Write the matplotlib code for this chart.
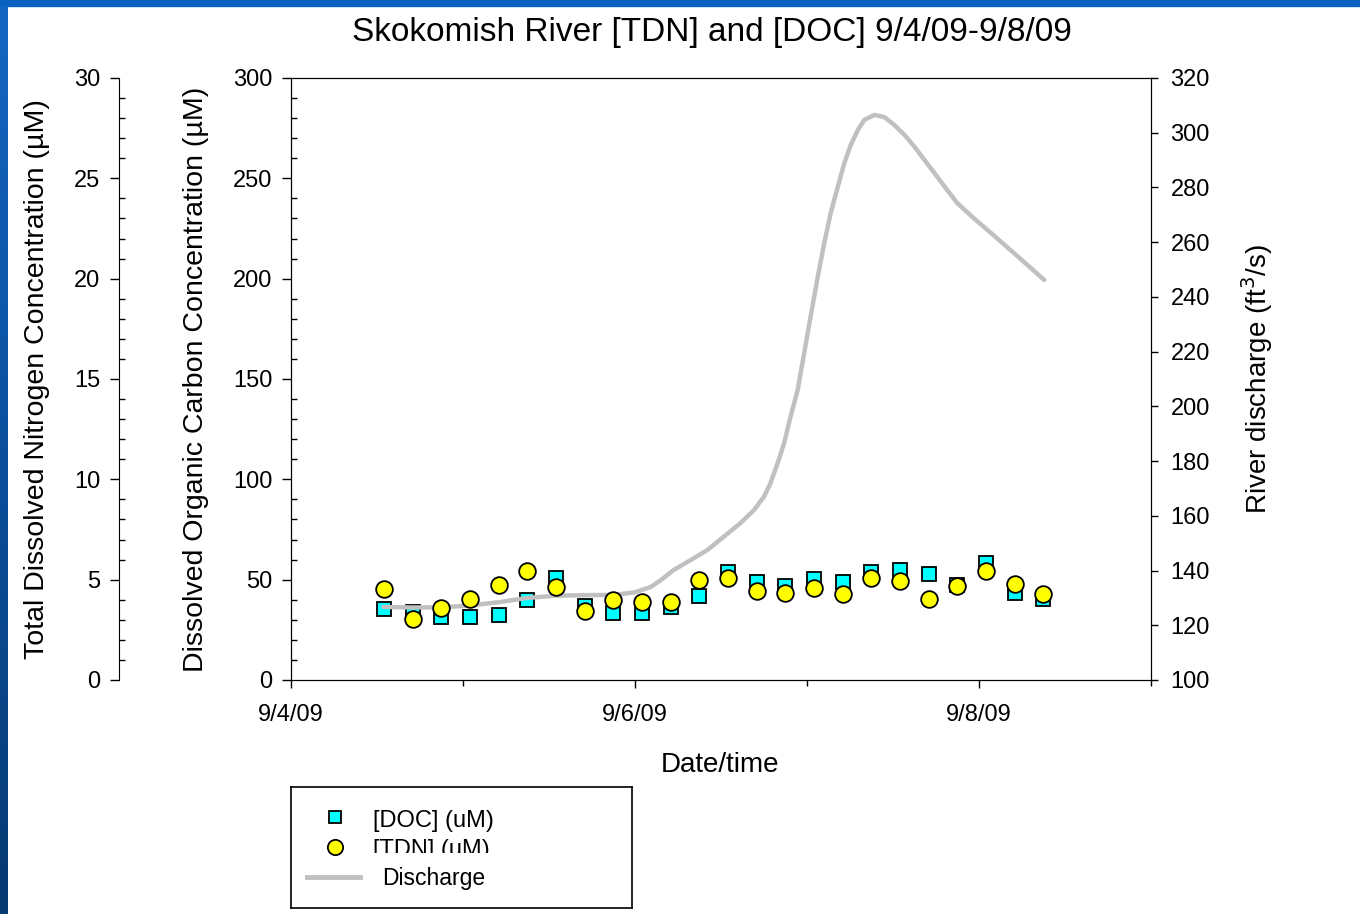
import matplotlib
matplotlib.use("Agg")
import matplotlib.pyplot as plt
import matplotlib.dates as mdates
from matplotlib.patches import Rectangle
from matplotlib.ticker import MultipleLocator
from matplotlib.transforms import Bbox, TransformedBbox
import numpy as np
import pandas as pd

# sampling times: hours after 9/4/09 00:00
sample_hours = [13, 17, 21, 25, 29, 33, 37, 41, 45, 49, 53, 57,
                61, 65, 69, 73, 77, 81, 85, 89, 93, 97, 101, 105]
doc_um = [35.4, 34.0, 31.4, 31.4, 32.4, 39.9, 50.8, 36.8, 33.4, 33.4, 36.4, 41.9,
          53.8, 48.8, 46.8, 50.3, 48.8, 53.8, 54.8, 52.8, 47.3, 58.3, 43.4, 40.4]
tdn_um = [4.53, 3.04, 3.59, 4.04, 4.73, 5.43, 4.63, 3.44, 3.99, 3.89, 3.89, 4.98,
          5.08, 4.44, 4.34, 4.58, 4.29, 5.08, 4.93, 4.04, 4.68, 5.43, 4.78, 4.29]

# river discharge (hours after 9/4/09 00:00, ft3/s)
discharge_hours = [12.9, 16.9, 21.0, 24.9, 28.9, 33.0, 36.9, 40.9, 45.0, 47.9,
                   50.2, 51.6, 53.4, 55.8, 58.1, 60.4, 62.7, 64.6, 66.0, 66.9,
                   67.9, 68.8, 69.7, 70.7, 71.6, 72.5, 73.5, 74.4, 75.3, 76.3,
                   77.2, 78.1, 79.1, 80.0, 81.4, 82.8, 84.2, 85.6, 87.0, 88.4,
                   89.8, 91.2, 93.0, 95.3, 97.7, 101.4, 105.1]
discharge_cfs = [126.7, 126.5, 126.6, 127.2, 128.4, 130.0, 130.8, 131.0, 131.1, 132.0,
                 134.0, 136.5, 140.2, 143.9, 147.5, 152.4, 157.3, 162.1, 167.0, 171.9,
                 179.2, 186.5, 196.2, 206.0, 219.4, 232.8, 247.3, 259.6, 270.6, 280.3,
                 288.8, 295.5, 301.0, 304.7, 306.5, 305.7, 302.8, 299.2, 294.9, 290.0,
                 285.2, 280.3, 274.2, 268.7, 263.3, 254.8, 246.2]

start = pd.Timestamp("2009-09-04")
t_samples = start + pd.to_timedelta(sample_hours, unit="h")
t_discharge = start + pd.to_timedelta(discharge_hours, unit="h")

W, H = 1360, 914
fig = plt.figure(figsize=(W / 100, H / 100), dpi=100)
fig.patch.set_facecolor("white")

# slide frame (blue bands at top and left)
band = fig.add_axes([0, 0, 8 / W, 1])
band.imshow(np.linspace(0, 1, 100).reshape(-1, 1), aspect="auto",
            cmap=matplotlib.colors.LinearSegmentedColormap.from_list(
                "b", ["#1566c2", "#0b4f9c", "#083a72"]),
            extent=[0, 1, 0, 1], origin="upper")
band.axis("off")
fig.patches.append(Rectangle((0, 1 - 6 / H), 1, 6 / H, transform=fig.transFigure,
                             color="#0a62c0", zorder=5))

font = "Liberation Sans"

L, R, T, B = 291, 1151, 78, 680
ax = fig.add_axes([L / W, 1 - B / H, (R - L) / W, (B - T) / H])
ax_q = ax.twinx()
ax_n = ax.twinx()

ax.plot(t_samples, doc_um, ls="none", marker="s", ms=10, mfc="#00ffff",
        mec="black", mew=1.3, clip_on=False)
ax_q.plot(t_discharge, discharge_cfs, color="#c0c0c0", lw=3.2,
          solid_capstyle="round", solid_joinstyle="round")
ax_n.plot(t_samples, tdn_um, ls="none", marker="o", ms=12, mfc="#ffff00",
          mec="black", mew=1.3, clip_on=False)

ax.set_xlim(pd.Timestamp("2009-09-04"), pd.Timestamp("2009-09-09"))
ax.set_ylim(0, 300)
ax_n.set_ylim(0, 30)
ax_q.set_ylim(100, 320)

# x axis
ax.xaxis.set_major_locator(mdates.DayLocator(bymonthday=[4, 6, 8]))
ax.xaxis.set_minor_locator(mdates.DayLocator(bymonthday=[5, 7, 9]))
ax.xaxis.set_major_formatter(mdates.DateFormatter("%-m/%-d/%y"))
ax.tick_params(axis="x", which="major", direction="out", length=6, width=1,
               pad=11, labelsize=17)
ax.tick_params(axis="x", which="minor", direction="out", length=4, width=1)
for lab in ax.get_xticklabels():
    lab.set_fontfamily(font)
ax.set_xlabel("Date/time", family=font, fontsize=20, va="top")
ax.xaxis.set_label_coords(0.499, -0.119)

# DOC axis (left, inner)
ax.yaxis.set_major_locator(MultipleLocator(50))
ax.yaxis.set_minor_locator(MultipleLocator(10))
ax.tick_params(axis="y", which="major", direction="out", length=6.5, width=1,
               pad=7, labelsize=17)
ax.tick_params(axis="y", which="minor", direction="in", length=4, width=1)
for lab in ax.get_yticklabels():
    lab.set_fontfamily(font)
ax.set_ylabel("Dissolved Organic Carbon Concentration (\u00b5M)", family=font,
              fontsize=20.5)
ax.yaxis.set_label_coords(-0.095, 0.5)

# TDN axis (left, outer)
ax_n.yaxis.set_ticks_position("left")
ax_n.yaxis.set_label_position("left")
ax_n.spines["left"].set_position(("axes", -0.2))
for s in ["right", "top", "bottom"]:
    ax_n.spines[s].set_visible(False)
ax_n.yaxis.set_major_locator(MultipleLocator(5))
ax_n.yaxis.set_minor_locator(MultipleLocator(1))
ax_n.tick_params(axis="y", which="major", direction="out", length=6.5, width=1,
                 pad=7, labelsize=17)
ax_n.tick_params(axis="y", which="minor", direction="in", length=4, width=1)
for lab in ax_n.get_yticklabels():
    lab.set_fontfamily(font)
ax_n.set_ylabel("Total Dissolved Nitrogen Concentration (\u00b5M)", family=font,
                fontsize=20.5)
ax_n.yaxis.set_label_coords(-0.280, 0.5)

# discharge axis (right)
ax_q.yaxis.set_major_locator(MultipleLocator(20))
ax_q.tick_params(axis="y", which="major", direction="out", length=5, width=1,
                 pad=9, labelsize=17)
for lab in ax_q.get_yticklabels():
    lab.set_fontfamily(font)
ax_q.set_ylabel("River discharge (ft$^3$/s)", family=font, fontsize=20)
ax_q.yaxis.set_label_coords(1.102, 0.5)

fig.text(712 / W, 1 - 32 / H, "Skokomish River [TDN] and [DOC] 9/4/09-9/8/09",
         ha="center", va="center", family=font, fontsize=24)

# legend box
lx0, ly0, lx1, ly1 = 291, 787, 632, 908
leg = fig.add_axes([lx0 / W, 1 - ly1 / H, (lx1 - lx0) / W, (ly1 - ly0) / H])
leg.set_xlim(0, lx1 - lx0)
leg.set_ylim(ly1 - ly0, 0)
leg.set_xticks([])
leg.set_yticks([])
for s in leg.spines.values():
    s.set_linewidth(1.2)
leg.plot([44], [30], marker="s", ms=9, mfc="#00ffff", mec="black", mew=1.3)
leg.text(82, 40, "[DOC] (uM)", va="baseline", family=font, fontsize=17)
leg.plot([44], [60], marker="o", ms=11, mfc="#ffff00", mec="black", mew=1.3)
t = leg.text(82, 69, "[TDN] (uM)", va="baseline", family=font, fontsize=17)
t.set_clip_box(TransformedBbox(Bbox([[0, 0], [lx1 - lx0, 66]]), leg.transData))
t.set_clip_on(True)
leg.plot([16, 69], [90, 90], color="#c0c0c0", lw=3.5)
leg.text(91, 98, "Discharge", va="baseline", family=font, fontsize=16.5)

fig.savefig("out.png", dpi=100, facecolor="white")
